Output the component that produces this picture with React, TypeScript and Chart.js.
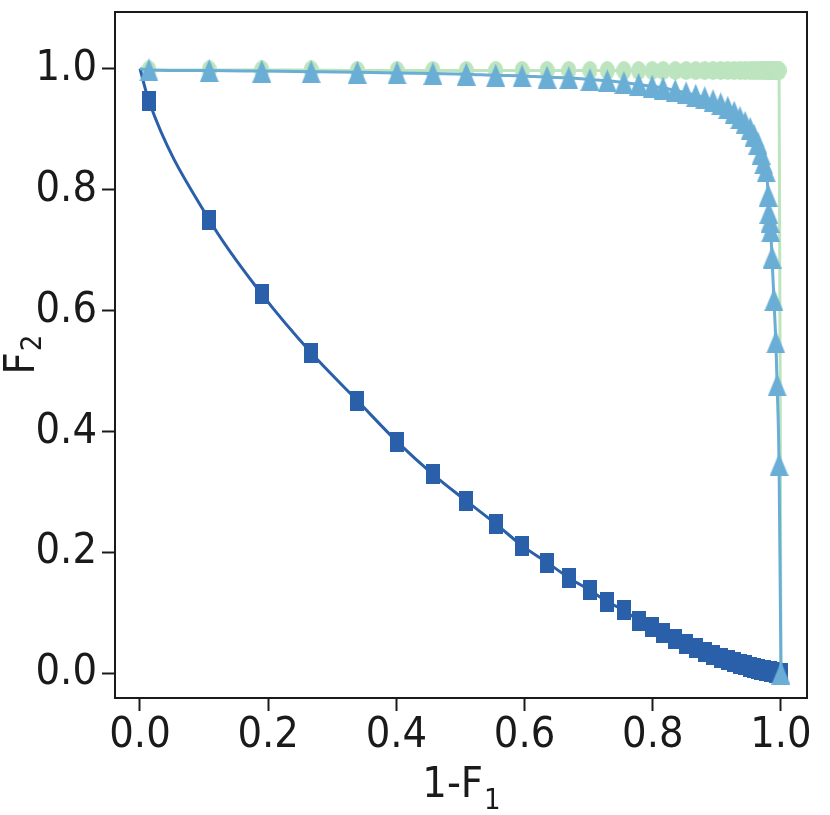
import React, { useEffect, useRef } from "react";
import { Chart, registerables } from "chart.js";

Chart.register(...registerables);

// shared abscissa 1-F1
const oneMinusF1 = [
  0, 0.014, 0.108, 0.19, 0.267, 0.339, 0.401, 0.457, 0.509, 0.555, 0.596, 0.635, 0.669, 0.702, 0.729,
  0.755, 0.778, 0.799, 0.816, 0.835, 0.852, 0.867, 0.881, 0.894, 0.906, 0.917, 0.927, 0.936, 0.944,
  0.952, 0.958, 0.964, 0.969, 0.973, 0.977, 0.98, 0.981, 0.983, 0.984, 0.986, 0.989, 0.992, 0.994,
  0.997, 1.0,
];
// F2, dark blue squares
const f2Squares = [
  1.0, 0.946, 0.75, 0.627, 0.53, 0.451, 0.383, 0.329, 0.285, 0.247, 0.211, 0.183, 0.158, 0.137, 0.118,
  0.104, 0.087, 0.076, 0.066, 0.056, 0.048, 0.041, 0.035, 0.03, 0.025, 0.021, 0.018, 0.015, 0.013,
  0.01, 0.008, 0.007, 0.006, 0.005, 0.004, 0.0035, 0.003, 0.003, 0.0025, 0.002, 0.0015, 0.001, 0.001,
  0.0005, 0.0,
];
// F2, light blue triangles
const f2Triangles = [
  1.0, 0.998, 0.997, 0.996, 0.995, 0.994, 0.993, 0.992, 0.991, 0.989, 0.988, 0.986, 0.985, 0.982, 0.98,
  0.977, 0.974, 0.971, 0.968, 0.964, 0.96, 0.956, 0.952, 0.947, 0.942, 0.936, 0.928, 0.919, 0.911,
  0.901, 0.89, 0.877, 0.86, 0.844, 0.831, 0.791, 0.762, 0.748, 0.732, 0.688, 0.618, 0.548, 0.477,
  0.345, 0.0,
];
// F2, light green circles
const f2Circles = [
  1.0, 0.998, 0.998, 0.998, 0.998, 0.997, 0.997, 0.997, 0.997, 0.997, 0.997, 0.997, 0.997, 0.997, 0.997,
  0.997, 0.997, 0.997, 0.997, 0.997, 0.997, 0.997, 0.997, 0.997, 0.997, 0.997, 0.997, 0.997, 0.997,
  0.997, 0.997, 0.997, 0.997, 0.997, 0.997, 0.997, 0.997, 0.997, 0.997, 0.997, 0.997, 0.997, 0.997,
  0.997, 0.0,
];
const xTickValues = [0, 0.2, 0.4, 0.6, 0.8, 1.0];
const yTickValues = [0, 0.2, 0.4, 0.6, 0.8, 1.0];
const xAxisTitle = ["1-F", "1"]; // main text, subscript
const yAxisTitle = ["F", "2"];

const FONT = "'DejaVu Sans Condensed', 'DejaVu Sans', sans-serif";
const DARK = "#2a5faa";
const LIGHT = "#6aaed6";
const GREEN = "#bce4be";
const INK = "#1a1a1a";
const MAIN_SIZE = 43;
const SUB_SIZE = 29;

function makeMarker(shape: string, w: number, h: number, fill: string): HTMLCanvasElement {
  const c = document.createElement("canvas");
  c.width = w;
  c.height = h;
  const g = c.getContext("2d")!;
  g.fillStyle = fill;
  g.beginPath();
  if (shape === "square") g.rect(0, 0, w, h);
  else if (shape === "circle") g.ellipse(w / 2, h / 2, w / 2, h / 2, 0, 0, Math.PI * 2);
  else {
    g.moveTo(w / 2, 0);
    g.lineTo(w, h);
    g.lineTo(0, h);
    g.closePath();
  }
  g.fill();
  return c;
}

function drawSubText(ctx: CanvasRenderingContext2D, parts: string[], cx: number, baseline: number, subDrop: number) {
  ctx.font = `${MAIN_SIZE}px ${FONT}`;
  const w1 = ctx.measureText(parts[0]).width;
  ctx.font = `${SUB_SIZE}px ${FONT}`;
  const w2 = ctx.measureText(parts[1]).width;
  const start = cx - (w1 + w2) / 2;
  ctx.textAlign = "left";
  ctx.textBaseline = "alphabetic";
  ctx.font = `${MAIN_SIZE}px ${FONT}`;
  ctx.fillText(parts[0], start, baseline);
  ctx.font = `${SUB_SIZE}px ${FONT}`;
  ctx.fillText(parts[1], start + w1 + 1, baseline + subDrop);
}

const framePlugin = {
  id: "frame",
  afterDraw(chart: any) {
    const { ctx, chartArea: a } = chart;
    ctx.save();
    ctx.strokeStyle = INK;
    ctx.lineWidth = 2;
    ctx.strokeRect(a.left, a.top, a.right - a.left, a.bottom - a.top);
    ctx.fillStyle = INK;
    // x title
    drawSubText(ctx, xAxisTitle, (a.left + a.right) / 2, a.bottom + 99, 12);
    // y title (rotated)
    ctx.save();
    ctx.translate(a.left - 81, (a.top + a.bottom) / 2);
    ctx.rotate(-Math.PI / 2);
    drawSubText(ctx, yAxisTitle, 0, 0, 7);
    ctx.restore();
    ctx.restore();
  },
};

export default function App() {
  const ref = useRef<HTMLCanvasElement>(null);
  useEffect(() => {
    if (!ref.current) return;
    const tri = makeMarker("triangle", 19, 23, LIGHT);
    const sq = makeMarker("square", 14, 20, DARK);
    const circ = makeMarker("circle", 15, 19, GREEN);
    const pts = (ys: number[]) => oneMinusF1.map((x, i) => ({ x, y: ys[i] }));
    const hideFirst = (r: number) => (c: any) => (c.dataIndex === 0 ? 0 : r);
    const common = {
      showLine: true,
      borderWidth: 3,
      cubicInterpolationMode: "monotone",
      fill: false,
    };
    const tickFont = { family: FONT, size: MAIN_SIZE, lineHeight: 1 };
    const chart = new Chart(ref.current, {
      type: "scatter",
      data: {
        datasets: [
          { ...common, data: pts(f2Triangles), borderColor: LIGHT, backgroundColor: LIGHT, pointStyle: tri, pointRadius: hideFirst(9) },
          { ...common, data: pts(f2Squares), borderColor: DARK, backgroundColor: DARK, pointStyle: sq, pointRadius: hideFirst(8) },
          { ...common, data: pts(f2Circles), borderColor: GREEN, backgroundColor: GREEN, pointStyle: circ, pointRadius: hideFirst(8) },
        ] as any,
      },
      options: {
        animation: false,
        responsive: false,
        events: [],
        layout: { padding: { left: 0, top: 8, right: 23, bottom: 0 } },
        plugins: { legend: { display: false }, tooltip: { enabled: false } },
        scales: {
          x: {
            type: "linear",
            min: -0.039,
            max: 1.0406,
            afterBuildTicks: (s: any) => {
              s.ticks = xTickValues.map((v) => ({ value: v }));
            },
            afterFit: (s: any) => {
              s.height = 117;
              s.paddingLeft = 0;
              s.paddingRight = 0;
            },
            ticks: {
              callback: (v: any) => Number(v).toFixed(1),
              font: tickFont,
              color: INK,
              padding: 3,
              maxRotation: 0,
              autoSkip: false,
            },
            grid: { drawOnChartArea: false, drawTicks: true, tickLength: 13, tickColor: INK, tickWidth: 2 },
            border: { display: false },
            title: { display: false },
          },
          y: {
            type: "linear",
            min: -0.0411,
            max: 1.0938,
            afterBuildTicks: (s: any) => {
              s.ticks = yTickValues.map((v) => ({ value: v }));
            },
            afterFit: (s: any) => {
              s.width = 115;
              s.paddingTop = 0;
              s.paddingBottom = 0;
            },
            ticks: {
              callback: (v: any) => Number(v).toFixed(1),
              font: tickFont,
              color: INK,
              padding: 5,
              autoSkip: false,
            },
            grid: { drawOnChartArea: false, drawTicks: true, tickLength: 13, tickColor: INK, tickWidth: 2 },
            border: { display: false },
            title: { display: false },
          },
        },
      } as any,
      plugins: [framePlugin],
    });
    return () => chart.destroy();
  }, []);
  return (
    <div style={{ position: "absolute", left: 0, top: 0, width: 830, height: 815 }}>
      <canvas ref={ref} width={830} height={815} style={{ display: "block" }} />
    </div>
  );
}
